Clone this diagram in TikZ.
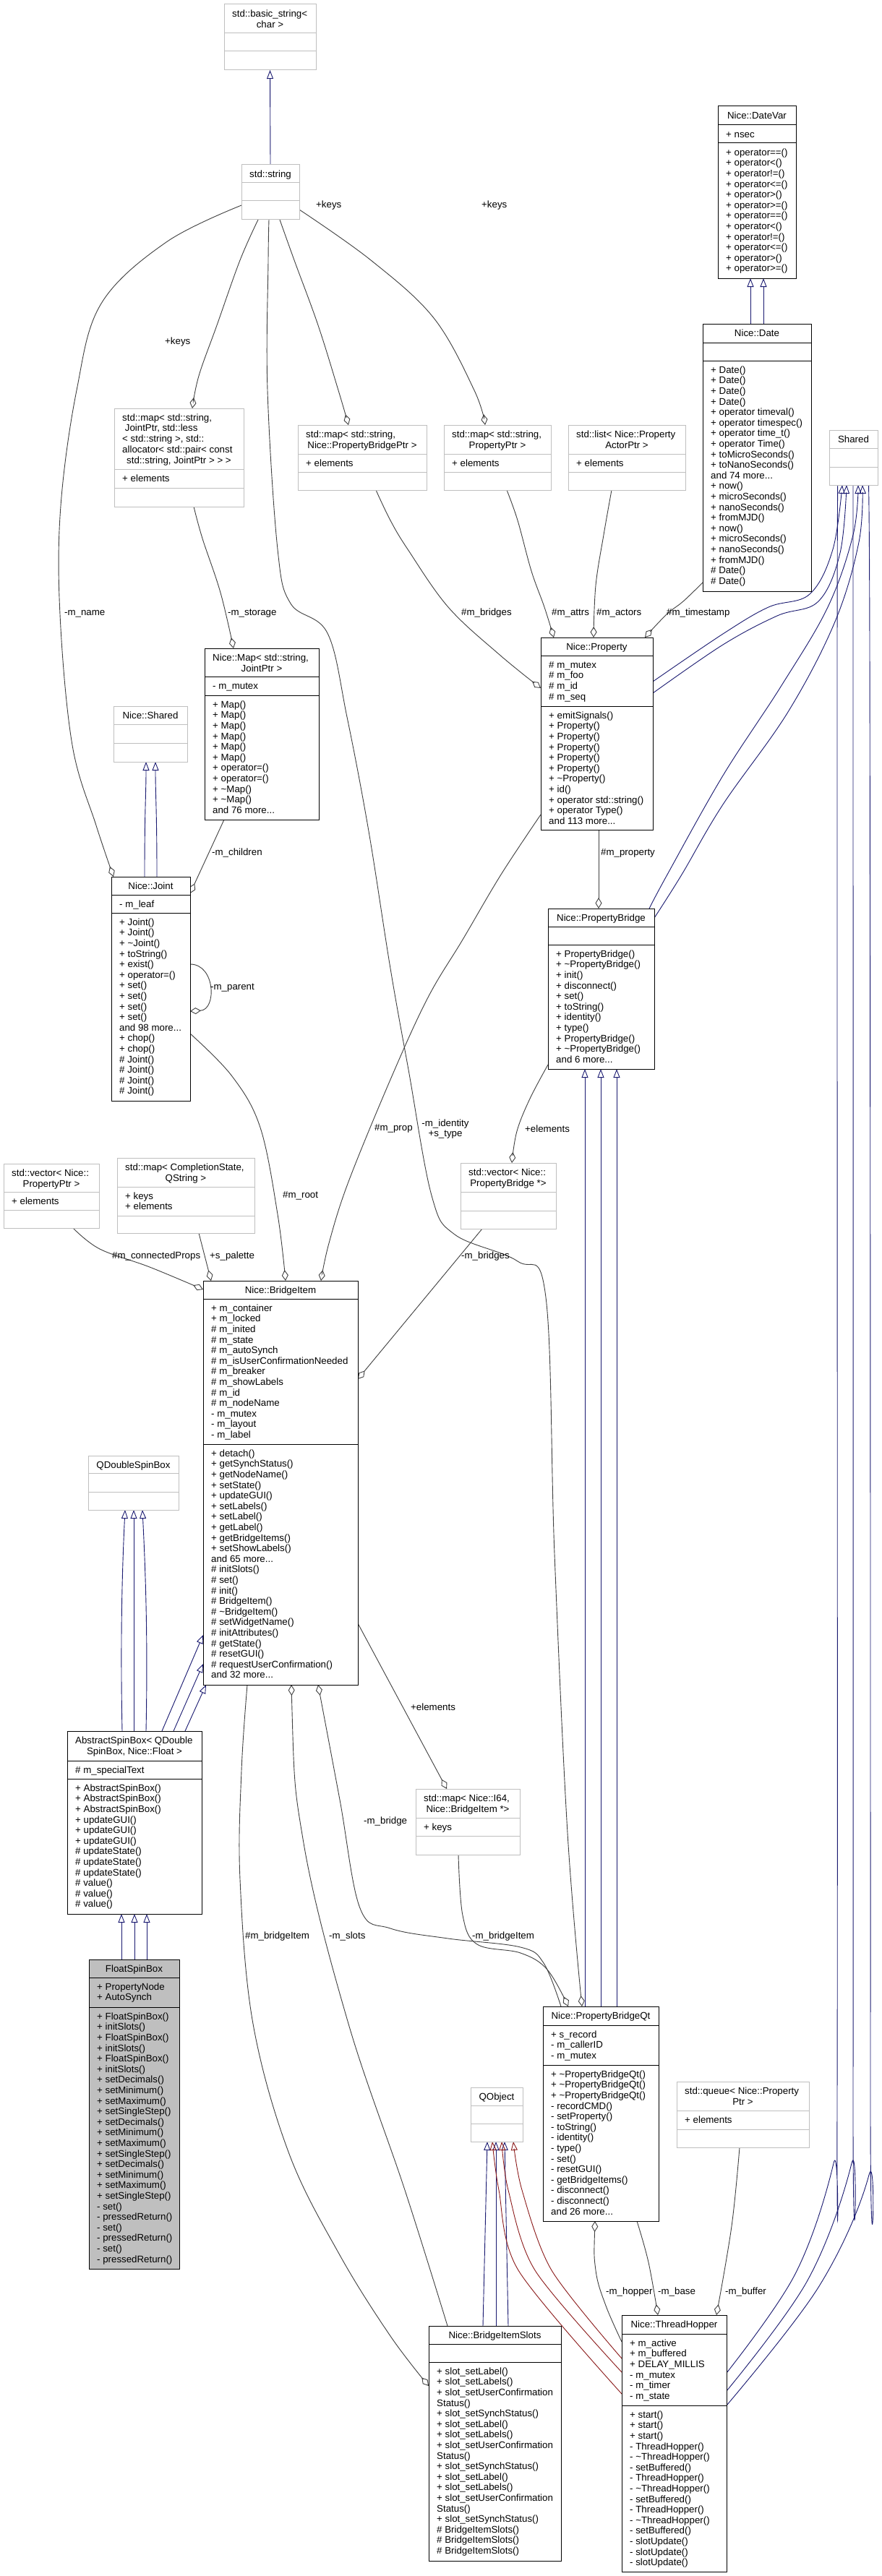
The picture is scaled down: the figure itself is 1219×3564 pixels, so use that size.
\documentclass[tikz,border=0pt]{standalone}
\usepackage{fontspec}
\setmainfont{Liberation Sans}
\usetikzlibrary{arrows.meta}
\definecolor{edgegray}{HTML}{404040}
\definecolor{inhblue}{HTML}{191970}
\definecolor{privred}{HTML}{8B1A1A}
\definecolor{boxgray}{HTML}{BFBFBF}
\newcommand\cf{\fontsize{13.3}{14.6}\selectfont}
\pgfdeclarelayer{bg}
\pgfsetlayers{bg,main}
% name, colour, x1, x2, y1, d1, d2, y2, extra
\newcommand\ubox[9]{\node[draw=#2,fill=white,line width=1pt,inner sep=0pt,outer sep=0pt,anchor=north west,minimum width={#4-#3},minimum height={#8-#5},#9] (#1) at (#3,#5) {};\draw[draw=#2,line width=1pt] (#3,#6) -- (#4,#6) (#3,#7) -- (#4,#7);}
\newcommand\utitle[2]{\node[anchor=north,inner sep=0pt,font=\cf] (#1-t) at ([yshift=-6.8pt]#1.north) {\begin{tabular}{@{}c@{}}#2\end{tabular}};}
% multi-line title: name, x1, y1, left-aligned lines, centred last line
\newcommand\utitleml[5]{\node[anchor=north west,inner sep=0pt,font=\cf] (#1-t) at ({#2+11},{#3+6.8}) {\begin{tabular}{@{}l@{}}#4\end{tabular}};\node[anchor=north,inner sep=0pt,font=\cf] (#1-t2) at (#1.north |- #1-t.south) {\begin{tabular}{@{}c@{}}#5\end{tabular}};}
\newcommand\ulines[4]{\node[anchor=north west,inner sep=0pt,font=\cf] (#1) at ({#2+11},{#3+6.8}) {\begin{tabular}{@{}l@{}}#4\end{tabular}};}
\begin{document}
\begin{tikzpicture}[x=1pt,y=-1pt,
 use/.style={draw=edgegray,line width=0.9pt},
 agg/.style={use,-{Diamond[open,length=15pt,width=9pt]}},
 aggs/.style={use,{Diamond[open,length=15pt,width=9pt]}-},
 inh/.style={draw=inhblue,line width=0.9pt,-{Triangle[open,length=12pt,width=9pt]}},
 inhr/.style={draw=privred,line width=0.9pt,-{Triangle[open,length=12pt,width=9pt]}},
 lbl/.style={font=\cf,inner sep=0pt,anchor=west}]
\useasboundingbox (0,0) rectangle (1219,3564);

% ---------------- boxes ----------------
\ubox{basicstr}{boxgray}{310}{437}{6}{46}{71}{97}{}
\utitleml{basicstr}{310}{6}{std::basic\_string<}{char >}
\ubox{string}{boxgray}{334}{414}{228}{253}{278}{304}{}
\utitle{string}{std::string}

\ubox{datevar}{black}{993}{1101}{147}{173}{198}{385}{}
\utitle{datevar}{Nice::DateVar}
\ulines{datevar-a}{993}{173}{+ nsec}
\ulines{datevar-m}{993}{198}{+ operator==()\\+ operator<()\\+ operator!=()\\+ operator<=()\\+ operator>()\\+ operator>=()\\+ operator==()\\+ operator<()\\+ operator!=()\\+ operator<=()\\+ operator>()\\+ operator>=()}

\ubox{date}{black}{972}{1122}{448}{474}{499}{818}{}
\utitle{date}{Nice::Date}
\ulines{date-m}{972}{499}{+ Date()\\+ Date()\\+ Date()\\+ Date()\\+ operator timeval()\\+ operator timespec()\\+ operator time\_t()\\+ operator Time()\\+ toMicroSeconds()\\+ toNanoSeconds()\\and 74 more...\\+ now()\\+ microSeconds()\\+ nanoSeconds()\\+ fromMJD()\\+ now()\\+ microSeconds()\\+ nanoSeconds()\\+ fromMJD()\\\# Date()\\\# Date()}

\ubox{shared}{boxgray}{1147}{1214}{595}{620}{646}{671}{}
\utitle{shared}{Shared}

\ubox{mapjp}{boxgray}{158}{337}{565}{649}{675}{701}{}
\utitleml{mapjp}{158}{565}{std::map< std::string,\\\ JointPtr, std::less\\< std::string >, std::\\allocator< std::pair< const}{std::string, JointPtr > > >}
\ulines{mapjp-a}{158}{649}{+ elements}

\ubox{mappb}{boxgray}{412}{590}{588}{628}{653}{678}{}
\utitleml{mappb}{412}{588}{std::map< std::string,}{Nice::PropertyBridgePtr >}
\ulines{mappb-a}{412}{628}{+ elements}

\ubox{mappp}{boxgray}{614}{762}{588}{628}{653}{678}{}
\utitleml{mappp}{614}{588}{std::map< std::string,}{PropertyPtr >}
\ulines{mappp-a}{614}{628}{+ elements}

\ubox{listpa}{boxgray}{786}{948}{588}{628}{653}{678}{}
\utitleml{listpa}{786}{588}{std::list< Nice::Property}{ActorPtr >}
\ulines{listpa-a}{786}{628}{+ elements}

\ubox{nmap}{black}{283}{441}{897}{936}{962}{1134}{}
\utitleml{nmap}{283}{897}{Nice::Map< std::string,}{JointPtr >}
\ulines{nmap-a}{283}{936}{- m\_mutex}
\ulines{nmap-m}{283}{962}{+ Map()\\+ Map()\\+ Map()\\+ Map()\\+ Map()\\+ Map()\\+ operator=()\\+ operator=()\\+ \textasciitilde Map()\\+ \textasciitilde Map()\\and 76 more...}

\ubox{nshared}{boxgray}{157}{259}{977}{1002}{1028}{1054}{}
\utitle{nshared}{Nice::Shared}

\ubox{joint}{black}{154}{263}{1213}{1238}{1263}{1523}{}
\utitle{joint}{Nice::Joint}
\ulines{joint-a}{154}{1238}{- m\_leaf}
\ulines{joint-m}{154}{1263}{+ Joint()\\+ Joint()\\+ \textasciitilde Joint()\\+ toString()\\+ exist()\\+ operator=()\\+ set()\\+ set()\\+ set()\\+ set()\\and 98 more...\\+ chop()\\+ chop()\\\# Joint()\\\# Joint()\\\# Joint()\\\# Joint()}

\ubox{prop}{black}{748}{903}{882}{907}{977}{1148}{}
\utitle{prop}{Nice::Property}
\ulines{prop-a}{748}{907}{\# m\_mutex\\\# m\_foo\\\# m\_id\\\# m\_seq}
\ulines{prop-m}{748}{977}{+ emitSignals()\\+ Property()\\+ Property()\\+ Property()\\+ Property()\\+ Property()\\+ \textasciitilde Property()\\+ id()\\+ operator std::string()\\+ operator Type()\\and 113 more...}

\ubox{pb}{black}{758}{905}{1257}{1282}{1307}{1479}{}
\utitle{pb}{Nice::PropertyBridge}
\ulines{pb-m}{758}{1307}{+ PropertyBridge()\\+ \textasciitilde PropertyBridge()\\+ init()\\+ disconnect()\\+ set()\\+ toString()\\+ identity()\\+ type()\\+ PropertyBridge()\\+ \textasciitilde PropertyBridge()\\and 6 more...}

\ubox{vecpb}{boxgray}{637}{769}{1609}{1649}{1675}{1700}{}
\utitleml{vecpb}{637}{1609}{std::vector< Nice::}{PropertyBridge *>}

\ubox{vecpp}{boxgray}{5}{137}{1610}{1649}{1674}{1699}{}
\utitleml{vecpp}{5}{1610}{std::vector< Nice::}{PropertyPtr >}
\ulines{vecpp-a}{5}{1649}{+ elements}

\ubox{mapcs}{boxgray}{162}{352}{1602}{1642}{1682}{1706}{}
\utitleml{mapcs}{162}{1602}{std::map< CompletionState,}{QString >}
\ulines{mapcs-a}{162}{1642}{+ keys\\+ elements}

\ubox{bi}{black}{281}{495}{1772}{1797}{1998}{2331}{}
\utitle{bi}{Nice::BridgeItem}
\ulines{bi-a}{281}{1797}{+ m\_container\\+ m\_locked\\\# m\_inited\\\# m\_state\\\# m\_autoSynch\\\# m\_isUserConfirmationNeeded\\\# m\_breaker\\\# m\_showLabels\\\# m\_id\\\# m\_nodeName\\- m\_mutex\\- m\_layout\\- m\_label}
\ulines{bi-m}{281}{1998}{+ detach()\\+ getSynchStatus()\\+ getNodeName()\\+ setState()\\+ updateGUI()\\+ setLabels()\\+ setLabel()\\+ getLabel()\\+ getBridgeItems()\\+ setShowLabels()\\and 65 more...\\\# initSlots()\\\# set()\\\# init()\\\# BridgeItem()\\\# \textasciitilde BridgeItem()\\\# setWidgetName()\\\# initAttributes()\\\# getState()\\\# resetGUI()\\\# requestUserConfirmation()\\and 32 more...}

\ubox{qdsb}{boxgray}{122}{247}{2014}{2038}{2064}{2089}{}
\utitle{qdsb}{QDoubleSpinBox}

\ubox{asb}{black}{93}{279}{2395}{2436}{2461}{2648}{}
\utitleml{asb}{93}{2395}{AbstractSpinBox< QDouble}{SpinBox, Nice::Float >}
\ulines{asb-a}{93}{2436}{\# m\_specialText}
\ulines{asb-m}{93}{2461}{+ AbstractSpinBox()\\+ AbstractSpinBox()\\+ AbstractSpinBox()\\+ updateGUI()\\+ updateGUI()\\+ updateGUI()\\\# updateState()\\\# updateState()\\\# updateState()\\\# value()\\\# value()\\\# value()}

\ubox{fsb}{black}{123}{248}{2711}{2736}{2777}{3139}{fill=boxgray}
\utitle{fsb}{FloatSpinBox}
\ulines{fsb-a}{123}{2736}{+ PropertyNode\\+ AutoSynch}
\ulines{fsb-m}{123}{2777}{+ FloatSpinBox()\\+ initSlots()\\+ FloatSpinBox()\\+ initSlots()\\+ FloatSpinBox()\\+ initSlots()\\+ setDecimals()\\+ setMinimum()\\+ setMaximum()\\+ setSingleStep()\\+ setDecimals()\\+ setMinimum()\\+ setMaximum()\\+ setSingleStep()\\+ setDecimals()\\+ setMinimum()\\+ setMaximum()\\+ setSingleStep()\\- set()\\- pressedReturn()\\- set()\\- pressedReturn()\\- set()\\- pressedReturn()}

\ubox{mapi64}{boxgray}{575}{719}{2475}{2515}{2540}{2566}{}
\utitleml{mapi64}{575}{2475}{std::map< Nice::I64,}{Nice::BridgeItem *>}
\ulines{mapi64-a}{575}{2515}{+ keys}

\ubox{pbqt}{black}{751}{911}{2776}{2802}{2857}{3073}{}
\utitle{pbqt}{Nice::PropertyBridgeQt}
\ulines{pbqt-a}{751}{2802}{+ s\_record\\- m\_callerID\\- m\_mutex}
\ulines{pbqt-m}{751}{2857}{+ \textasciitilde PropertyBridgeQt()\\+ \textasciitilde PropertyBridgeQt()\\+ \textasciitilde PropertyBridgeQt()\\- recordCMD()\\- setProperty()\\- toString()\\- identity()\\- type()\\- set()\\- resetGUI()\\- getBridgeItems()\\- disconnect()\\- disconnect()\\and 26 more...}

\ubox{queue}{boxgray}{936}{1119}{2880}{2920}{2946}{2971}{}
\utitleml{queue}{936}{2880}{std::queue< Nice::Property}{Ptr >}
\ulines{queue-a}{936}{2920}{+ elements}

\ubox{qobject}{boxgray}{651}{723}{2888}{2913}{2938}{2963}{}
\utitle{qobject}{QObject}

\ubox{bis}{black}{593}{776}{3218}{3243}{3268}{3543}{}
\utitle{bis}{Nice::BridgeItemSlots}
\ulines{bis-m}{593}{3268}{+ slot\_setLabel()\\+ slot\_setLabels()\\+ slot\_setUserConfirmation\\Status()\\+ slot\_setSynchStatus()\\+ slot\_setLabel()\\+ slot\_setLabels()\\+ slot\_setUserConfirmation\\Status()\\+ slot\_setSynchStatus()\\+ slot\_setLabel()\\+ slot\_setLabels()\\+ slot\_setUserConfirmation\\Status()\\+ slot\_setSynchStatus()\\\# BridgeItemSlots()\\\# BridgeItemSlots()\\\# BridgeItemSlots()}

\ubox{th}{black}{860}{1005}{3203}{3229}{3328}{3558}{}
\utitle{th}{Nice::ThreadHopper}
\ulines{th-a}{860}{3229}{+ m\_active\\+ m\_buffered\\+ DELAY\_MILLIS\\- m\_mutex\\- m\_timer\\- m\_state}
\ulines{th-m}{860}{3328}{+ start()\\+ start()\\+ start()\\- ThreadHopper()\\- \textasciitilde ThreadHopper()\\- setBuffered()\\- ThreadHopper()\\- \textasciitilde ThreadHopper()\\- setBuffered()\\- ThreadHopper()\\- \textasciitilde ThreadHopper()\\- setBuffered()\\- slotUpdate()\\- slotUpdate()\\- slotUpdate()}

% ---------------- connectors ----------------
\begin{pgfonlayer}{bg}
\fill[white] (0,0) rectangle (1219,3564);
% inheritance
\draw[inh] (string.north) -- (basicstr.south);
\draw[inh] (1038,0 |- date.north) -- (1038,0 |- datevar.south);
\draw[inh] (1056,0 |- date.north) -- (1056,0 |- datevar.south);
\draw[inh] (200,0 |- joint.north) .. controls (200,1120) and (202,1100) .. (202,0 |- nshared.south);
\draw[inh] (217,0 |- joint.north) .. controls (217,1120) and (215,1100) .. (215,0 |- nshared.south);
\foreach \x in {809,831,853} \draw[inh] (\x,0 |- pbqt.north) -- (\x,0 |- pb.south);
\draw[inh] (169,0 |- asb.north) .. controls (166,2250) and (170,2150) .. (173,0 |- qdsb.south);
\draw[inh] (185,0 |- asb.north) -- (185,0 |- qdsb.south);
\draw[inh] (202,0 |- asb.north) .. controls (205,2250) and (200,2150) .. (197,0 |- qdsb.south);
\draw[inh] (224,0 |- asb.north) -- (bi.west |- 0,2262);
\draw[inh] (240,0 |- asb.north) -- (bi.west |- 0,2302);
\draw[inh] (256,0 |- asb.north) -- (285,0 |- bi.south);
\foreach \x in {168,186,203} \draw[inh] (\x,0 |- fsb.north) -- (\x,0 |- asb.south);
\draw[inh] (668,0 |- bis.north) -- (674,0 |- qobject.south);
\draw[inh] (686,0 |- bis.north) -- (686,0 |- qobject.south);
\draw[inh] (703,0 |- bis.north) -- (698,0 |- qobject.south);
\draw[inhr] plot[smooth,tension=0.5] coordinates {(th.west |- 0,3312) (717,3141) (690,3030) (681,0 |- qobject.south)};
\draw[inhr] plot[smooth,tension=0.5] coordinates {(th.west |- 0,3282) (740,3141) (703,3030) (694,0 |- qobject.south)};
\draw[inhr] plot[smooth,tension=0.5] coordinates {(th.west |- 0,3263) (763,3141) (722,3030) (710,0 |- qobject.south)};
\draw[inh] plot[smooth,tension=0.6] coordinates {(th.east |- 0,3283) (1100,3146) (1153,2993) (1158,2900) (1158,900) (1160,0 |- shared.south)};
\draw[inh] plot[smooth,tension=0.6] coordinates {(th.east |- 0,3308) (1117,3155) (1178,2993) (1180,2900) (1180,900) (1180,0 |- shared.south)};
\draw[inh] plot[smooth,tension=0.6] coordinates {(th.east |- 0,3328) (1133,3163) (1202,3009) (1204,2900) (1203,900) (1199,0 |- shared.south)};
\draw[inh] plot[smooth,tension=0.6] coordinates {(prop.east |- 0,943) (1000,877) (1063,840) (1120,822) (1152,760) (1165,0 |- shared.south)};
\draw[inh] plot[smooth,tension=0.6] coordinates {(prop.east |- 0,959) (1000,892) (1075,852) (1132,832) (1162,765) (1171,0 |- shared.south)};
\draw[inh] plot[smooth,tension=0.6] coordinates {(898,0 |- pb.north) (923,1210) (1000,1073) (1080,950) (1145,840) (1180,740) (1187,0 |- shared.south)};
\draw[inh] plot[smooth,tension=0.6] coordinates {(pb.east |- 0,1270) (943,1210) (1000,1113) (1090,985) (1155,860) (1188,750) (1193,0 |- shared.south)};
% usage / aggregation
\draw[agg] plot[smooth,tension=0.6] coordinates {(string.west |- 0,284) (230,335) (140,420) (106,540) (84,700) (83,850) (100,1031) (133,1142) (157,0 |- joint.north)};
\draw[agg] plot[smooth,tension=0.6] coordinates {(357,0 |- string.south) (332,360) (300,450) (275,520) (266,0 |- mapjp.north)};
\draw[agg] plot[smooth,tension=0.6] coordinates {(372,0 |- string.south) (371,360) (370,540) (384,760) (402,835) (453,876) (480,992) (510,1150) (540,1340) (565,1480) (597,1654) (629,1708) (716,1745) (755,1795) (767,2150) (785,2536) (805,0 |- pbqt.north)};
\draw[agg] plot[smooth,tension=0.6] coordinates {(387,0 |- string.south) (407,360) (440,450) (468,540) (482,0 |- mappb.north)};
\draw[agg] plot[smooth,tension=0.6] coordinates {(string.east |- 0,290) (513,360) (600,440) (656,540) (671,0 |- mappp.north)};
\draw[agg] plot[smooth,tension=0.6] coordinates {(268,0 |- mapjp.south) (280,745) (305,820) (323,0 |- nmap.north)};
\draw[agg] plot[smooth,tension=0.6] coordinates {(520,0 |- mappb.south) (540,720) (564,760) (620,840) (690,905) (prop.west |- 0,952)};
\draw[agg] plot[smooth,tension=0.6] coordinates {(701,0 |- mappp.south) (716,720) (735,790) (753,840) (766,0 |- prop.north)};
\draw[agg] plot[smooth,tension=0.6] coordinates {(846,0 |- listpa.south) (835,740) (824,810) (821,0 |- prop.north)};
\draw[agg] plot[smooth,tension=0.6] coordinates {(date.west |- 0,806) (945,832) (922,850) (892,0 |- prop.north)};
\draw[agg] (310,0 |- nmap.south) -- (joint.east |- 0,1236);
\draw[agg] (joint.east |- 0,1334) .. controls (298,1334) and (300,1397) .. (joint.east |- 0,1399);
\draw[agg] (828,0 |- prop.south) -- (828,0 |- pb.north);
\draw[agg] plot[smooth,tension=0.6] coordinates {(prop.west |- 0,1127) (693,1210) (640,1300) (592,1380) (542,1489) (482,1635) (455,1720) (444,0 |- bi.north)};
\draw[agg] plot[smooth,tension=0.6] coordinates {(joint.east |- 0,1430) (321,1489) (360,1560) (384,1680) (395,0 |- bi.north)};
\draw[agg] plot[smooth,tension=0.6] coordinates {(101,0 |- vecpp.south) (138,1728) (207,1753) (bi.west |- 0,1784)};
\draw[agg] (275,0 |- mapcs.south) -- (292,0 |- bi.north);
\draw[agg] (667,0 |- vecpb.south) -- (bi.east |- 0,1908);
\draw[agg] plot[smooth,tension=0.6] coordinates {(pb.west |- 0,1473) (733,1520) (715,1565) (708,0 |- vecpb.north)};
\draw[agg] (bi.east |- 0,2246) -- (618,0 |- mapi64.north);
\draw[agg] plot[smooth,tension=0.6] coordinates {(634,0 |- mapi64.south) (640,2650) (660,2690) (720,2702) (757,2725) (786,0 |- pbqt.north)};
\draw[aggs] plot[smooth,tension=0.6] coordinates {(440,0 |- bi.south) (470,2490) (498,2640) (540,2668) (620,2682) (720,2694) (752,2716) (776,0 |- pbqt.north)};
\draw[agg] plot[smooth,tension=0.6] coordinates {(342,0 |- bi.south) (334,2450) (332,2600) (350,2800) (400,2980) (470,3120) (540,3232) (bis.west |- 0,3301)};
\draw[aggs] plot[smooth,tension=0.6] coordinates {(403,0 |- bi.south) (420,2550) (482,2800) (560,3030) (619,0 |- bis.north)};
\draw[aggs] plot[smooth,tension=0.6] coordinates {(823,0 |- pbqt.south) (824,3141) (838,3190) (th.west |- 0,3240)};
\draw[agg] plot[smooth,tension=0.6] coordinates {(881,0 |- pbqt.south) (897,3130) (910,0 |- th.north)};
\draw[agg] plot[smooth,tension=0.6] coordinates {(1023,0 |- queue.south) (1012,3080) (991,0 |- th.north)};
\end{pgfonlayer}

% ---------------- labels ----------------
\node[lbl] (l1) at (228,473) {+keys};
\node[lbl] (l2) at (437,284) {+keys};
\node[lbl] (l3) at (666,284) {+keys};
\node[lbl] (l4) at (89,849) {-m\_name};
\node[lbl] (l5) at (315,849) {-m\_storage};
\node[lbl] (l6) at (638,848) {\#m\_bridges};
\node[lbl] (l7) at (763,848) {\#m\_attrs};
\node[lbl] (l8) at (825,848) {\#m\_actors};
\node[lbl] (l9) at (922,848) {\#m\_timestamp};
\node[lbl] (l10) at (293,1180) {-m\_children};
\node[lbl] (l11) at (291,1367) {-m\_parent};
\node[lbl] (l12) at (831,1180) {\#m\_property};
\node[lbl] (l13) at (518,1561) {\#m\_prop};
\node[font=\cf,inner sep=0pt,align=center] (l14) at (616,1562) {-m\_identity\\+s\_type};
\node[lbl] (l15) at (726,1562) {+elements};
\node[lbl] (l16) at (391,1654) {\#m\_root};
\node[lbl] (l17) at (155,1738) {\#m\_connectedProps};
\node[lbl] (l18) at (290,1738) {+s\_palette};
\node[lbl] (l19) at (638,1738) {-m\_bridges};
\node[lbl] (l20) at (568,2362) {+elements};
\node[lbl] (l21) at (503,2520) {-m\_bridge};
\node[lbl] (l22) at (339,2679) {\#m\_bridgeItem};
\node[lbl] (l23) at (455,2679) {-m\_slots};
\node[lbl] (l24) at (653,2679) {-m\_bridgeItem};
\node[lbl] (l25) at (838,3171) {-m\_hopper};
\node[lbl] (l26) at (910,3171) {-m\_base};
\node[lbl] (l27) at (1003,3171) {-m\_buffer};
\end{tikzpicture}
\end{document}
